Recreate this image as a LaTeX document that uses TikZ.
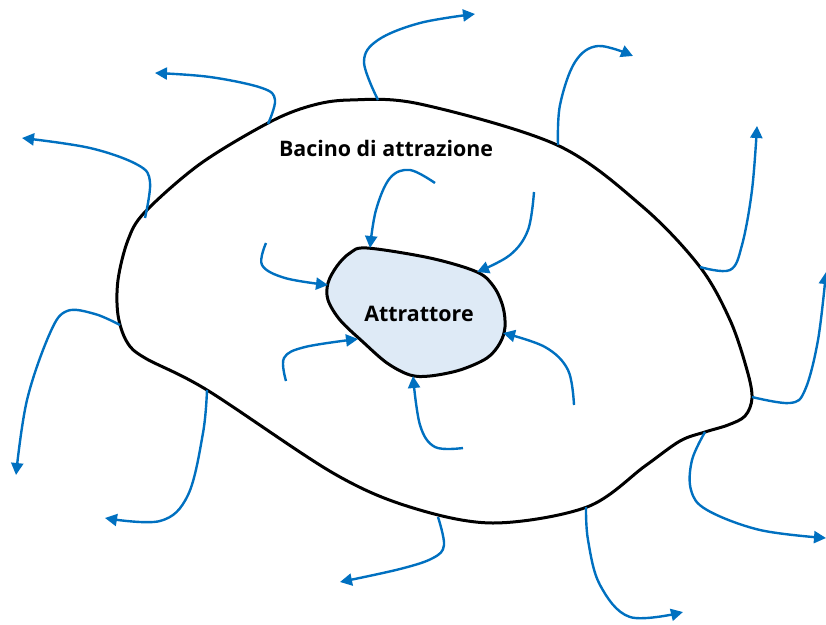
\documentclass[tikz,border=0pt]{standalone}
\usepackage{fontspec}
\setmainfont{Open Sans}
\usetikzlibrary{arrows.meta}
\definecolor{flow}{HTML}{0070C0}
\definecolor{attfill}{HTML}{DEEAF6}
\tikzset{
  outline/.style={draw=black, line width=3pt},
  flowline/.style={draw=flow, line width=2.4pt, -{Triangle[length=12pt,width=12pt]}},
  lbl/.style={font=\bfseries\fontsize{21.4}{26}\selectfont, inner sep=0pt}
}
\begin{document}
\begin{tikzpicture}[x=1pt,y=-1pt]
\useasboundingbox (0,0) rectangle (826,624);
% basin
\draw[outline] plot[smooth cycle, tension=0.55] coordinates {
 (350,100) (420,104) (557,145) (643,207) (700,267) (730,320) (747,370) (752,398)
 (745,416) (728,425) (705,432) (680,441) (645,466) (587,507) (493,523) (410,507)
 (333,473) (207,390) (145,358) (127,342) (118,315) (118,280) (128,240) (145,212) (200,164) (268,123) (310,106)};
% attractor
\draw[outline, fill=attfill] plot[smooth cycle, tension=0.55] coordinates {
 (367,248) (430,258) (477,272) (494,287) (503,307) (505,327) (500,343) (487,358)
 (460,370) (430,376) (410,375) (387,363) (363,342) (340,320) (328,300) (328,283) (337,266) (350,253)};
\node[lbl] (bacino) at (386,148) {Bacino di attrazione};
\node[lbl] (attr) at (419,314) {Attrattore};
% outward arrows
\draw[flowline] plot[smooth, tension=0.6] coordinates {(378,100) (364,62) (378,40) (420,23) (475,14)};
\draw[flowline] plot[smooth, tension=0.6] coordinates {(268,124) (275,100) (262,88) (210,77) (155,73)};
\draw[flowline] plot[smooth, tension=0.6] coordinates {(145,218) (150,182) (138,165) (90,148) (22,138)};
\draw[flowline] plot[smooth, tension=0.6] coordinates {(120,325) (95,314) (67,311) (50,333) (27,400) (16,475)};
\draw[flowline] plot[smooth, tension=0.6] coordinates {(207,390) (203,433) (188,495) (160,521) (105,518)};
\draw[flowline] plot[smooth, tension=0.6] coordinates {(438,517) (444,545) (433,558) (400,569) (340,582)};
\draw[flowline] plot[smooth, tension=0.6] coordinates {(586,507) (588,540) (600,585) (630,617) (683,612)};
\draw[flowline] plot[smooth, tension=0.6] coordinates {(705,432) (692,460) (691,490) (707,510) (760,530) (826,538)};
\draw[flowline] plot[smooth, tension=0.6] coordinates {(752,397) (790,403) (805,390) (818,340) (826,272)};
\draw[flowline] plot[smooth, tension=0.6] coordinates {(700,267) (730,270) (742,245) (752,190) (757,126)};
\draw[flowline] plot[smooth, tension=0.6] coordinates {(558,145) (560,105) (575,62) (598,46) (633,56)};
% inward arrows
\draw[flowline] plot[smooth, tension=0.6] coordinates {(435,183) (410,170) (390,178) (376,210) (370,248)};
\draw[flowline] plot[smooth, tension=0.6] coordinates {(534,192) (528,230) (510,255) (477,272)};
\draw[flowline] plot[smooth, tension=0.6] coordinates {(266,243) (262,265) (285,278) (328,285)};
\draw[flowline] plot[smooth, tension=0.6] coordinates {(286,381) (284,358) (305,347) (358,339)};
\draw[flowline] plot[smooth, tension=0.6] coordinates {(463,448) (435,447) (420,425) (413,376)};
\draw[flowline] plot[smooth, tension=0.6] coordinates {(574,405) (568,370) (545,347) (503,333)};
\end{tikzpicture}
\end{document}
